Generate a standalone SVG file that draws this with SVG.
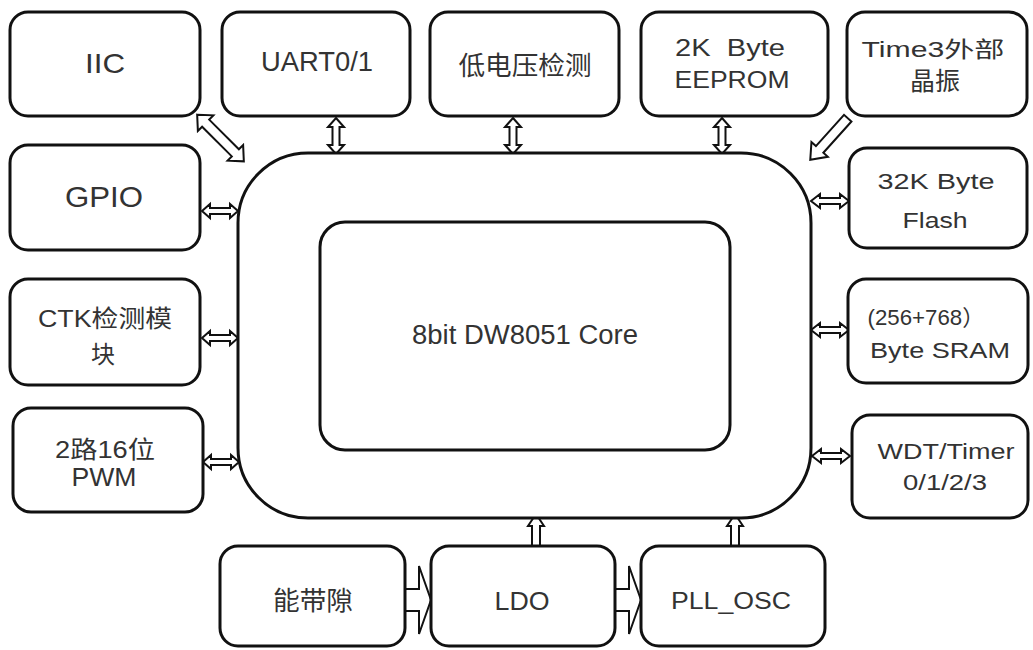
<svg xmlns="http://www.w3.org/2000/svg" width="1033" height="650" viewBox="0 0 1033 650">
<style>
.box{fill:#fff;stroke:#111;stroke-width:3}
.t{font-family:"Liberation Sans","Noto Sans CJK SC",Arial,sans-serif;font-size:23px;fill:#333;text-anchor:middle;dominant-baseline:central;white-space:pre}
.ar{fill:#fff;stroke:#111;stroke-width:2;stroke-linejoin:miter}
</style>
<rect width="1033" height="650" fill="#fff"/>
<g id="connectors">
<path class="ar" transform="translate(336,136) rotate(90)" d="M-18,0 L-9,-8 L-9,-3.5 L9,-3.5 L9,-8 L18,0 L9,8 L9,3.5 L-9,3.5 L-9,8 Z"/>
<path class="ar" transform="translate(513,136) rotate(90)" d="M-18,0 L-9,-8 L-9,-3.5 L9,-3.5 L9,-8 L18,0 L9,8 L9,3.5 L-9,3.5 L-9,8 Z"/>
<path class="ar" transform="translate(722,136) rotate(90)" d="M-18,0 L-9,-8 L-9,-3.5 L9,-3.5 L9,-8 L18,0 L9,8 L9,3.5 L-9,3.5 L-9,8 Z"/>
<path class="ar" transform="translate(220.5,138) rotate(45)" d="M-33,0 L-21,-11 L-21,-5 L21,-5 L21,-11 L33,0 L21,11 L21,5 L-21,5 L-21,11 Z"/>
<path class="ar" transform="translate(829,139) rotate(132)" d="M-28,-5 L14,-5 L14,-11 L28,0 L14,11 L14,5 L-28,5 Z"/>
<path class="ar" transform="translate(220,211)" d="M-18,0 L-10,-7 L-10,-3 L10,-3 L10,-7 L18,0 L10,7 L10,3 L-10,3 L-10,7 Z"/>
<path class="ar" transform="translate(220,338)" d="M-18,0 L-10,-7 L-10,-3 L10,-3 L10,-7 L18,0 L10,7 L10,3 L-10,3 L-10,7 Z"/>
<path class="ar" transform="translate(221,462)" d="M-18,0 L-10,-7 L-10,-3 L10,-3 L10,-7 L18,0 L10,7 L10,3 L-10,3 L-10,7 Z"/>
<path class="ar" transform="translate(830,201)" d="M-19,0 L-10,-7 L-10,-3 L10,-3 L10,-7 L19,0 L10,7 L10,3 L-10,3 L-10,7 Z"/>
<path class="ar" transform="translate(830,330)" d="M-19,0 L-10,-7 L-10,-3 L10,-3 L10,-7 L19,0 L10,7 L10,3 L-10,3 L-10,7 Z"/>
<path class="ar" transform="translate(831,456)" d="M-19,0 L-10,-7 L-10,-3 L10,-3 L10,-7 L19,0 L10,7 L10,3 L-10,3 L-10,7 Z"/>
<path class="ar" d="M532,546 L532,526 L528,526 L536,514 L544,526 L540,526 L540,546 Z"/>
<path class="ar" d="M731,546 L731,526 L727,526 L735,514 L743,526 L739,526 L739,546 Z"/>
<path class="ar" d="M405,589 L419,589 L419,566 L431,600 L419,634 L419,611 L405,611 Z"/>
<path class="ar" d="M615,589 L629,589 L629,566 L641,600 L629,634 L629,611 L615,611 Z"/>
</g>
<g id="core">
<rect class="box" x="238" y="153" width="573" height="365" rx="70" ry="70"/>
<rect class="box" x="320" y="222" width="410" height="228" rx="25" ry="25"/>
<text class="t" x="525" y="335" style="font-size:27px" textLength="226" lengthAdjust="spacingAndGlyphs">8bit DW8051 Core</text>
</g>
<g id="iic"><rect class="box" x="10" y="12" width="190" height="104" rx="18"/><text class="t" x="105" y="63" style="font-size:28px" textLength="40" lengthAdjust="spacingAndGlyphs">IIC</text></g>
<g id="uart"><rect class="box" x="222" y="12" width="188" height="104" rx="18"/><text class="t" x="317" y="62" style="font-size:27px" textLength="112" lengthAdjust="spacingAndGlyphs">UART0/1</text></g>
<g id="lvd"><rect class="box" x="430" y="12" width="189" height="104" rx="18"/><text class="t" x="525" y="66" style="font-size:26px" textLength="133" lengthAdjust="spacingAndGlyphs">低电压检测</text></g>
<g id="eeprom"><rect class="box" x="641" y="12" width="187" height="104" rx="18"/><text class="t" x="730" y="48" textLength="110" lengthAdjust="spacingAndGlyphs">2K  Byte</text><text class="t" x="732" y="80" textLength="115" lengthAdjust="spacingAndGlyphs">EEPROM</text></g>
<g id="time3"><rect class="box" x="847" y="12" width="180" height="104" rx="18"/><text class="t" x="933" y="49" style="font-size:22px" textLength="143" lengthAdjust="spacingAndGlyphs">Time3外部</text><text class="t" x="935" y="81" style="font-size:25px">晶振</text></g>
<g id="gpio"><rect class="box" x="10" y="145" width="190" height="105" rx="18"/><text class="t" x="104" y="197" style="font-size:29px" textLength="78" lengthAdjust="spacingAndGlyphs">GPIO</text></g>
<g id="ctk"><rect class="box" x="10" y="279" width="190" height="106" rx="18"/><text class="t" x="105" y="318" style="font-size:24px" textLength="134" lengthAdjust="spacingAndGlyphs">CTK检测模</text><text class="t" x="103" y="354" style="font-size:24px">块</text></g>
<g id="pwm"><rect class="box" x="13" y="408" width="190" height="104" rx="18"/><text class="t" x="105" y="449" style="font-size:24px" textLength="100" lengthAdjust="spacingAndGlyphs">2路16位</text><text class="t" x="104" y="477" style="font-size:25px" textLength="65" lengthAdjust="spacingAndGlyphs">PWM</text></g>
<g id="flash"><rect class="box" x="849" y="148" width="178" height="100" rx="18"/><text class="t" x="936" y="181" style="font-size:22px" textLength="117" lengthAdjust="spacingAndGlyphs">32K Byte</text><text class="t" x="935" y="220" style="font-size:22px" textLength="65" lengthAdjust="spacingAndGlyphs">Flash</text></g>
<g id="sram"><rect class="box" x="848" y="279" width="180" height="104" rx="18"/><text class="t" x="926" y="317" style="font-size:22px" textLength="117" lengthAdjust="spacingAndGlyphs">(256+768）</text><text class="t" x="940" y="350" style="font-size:22px" textLength="140" lengthAdjust="spacingAndGlyphs">Byte SRAM</text></g>
<g id="wdt"><rect class="box" x="852" y="415" width="176" height="103" rx="18"/><text class="t" x="946" y="451" style="font-size:22px" textLength="137" lengthAdjust="spacingAndGlyphs">WDT/Timer</text><text class="t" x="945" y="482" style="font-size:22px" textLength="84" lengthAdjust="spacingAndGlyphs">0/1/2/3</text></g>
<g id="bandgap"><rect class="box" x="220" y="546" width="185" height="100" rx="18"/><text class="t" x="313" y="601" style="font-size:26px" textLength="80" lengthAdjust="spacingAndGlyphs">能带隙</text></g>
<g id="ldo"><rect class="box" x="431" y="546" width="184" height="100" rx="18"/><text class="t" x="522" y="601" style="font-size:25px" textLength="55" lengthAdjust="spacingAndGlyphs">LDO</text></g>
<g id="pll"><rect class="box" x="641" y="546" width="184" height="100" rx="18"/><text class="t" x="731" y="601" style="font-size:23px" textLength="120" lengthAdjust="spacingAndGlyphs">PLL_OSC</text></g>
</svg>
